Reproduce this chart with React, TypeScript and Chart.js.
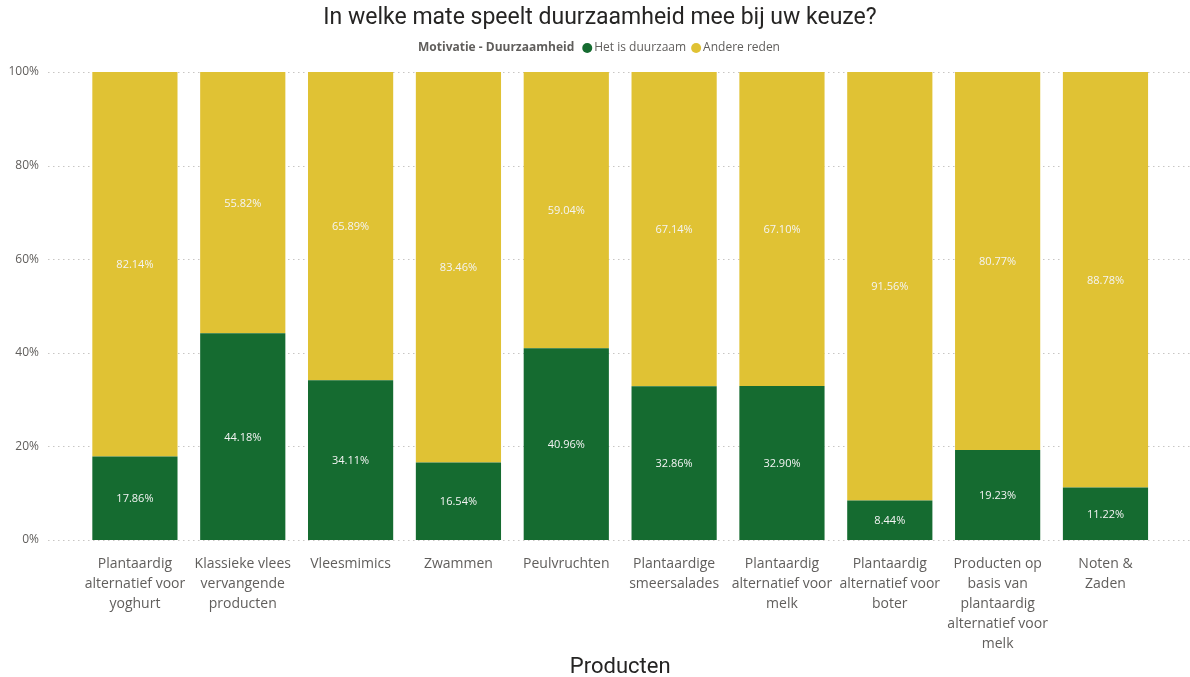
import React, { useEffect, useRef } from 'react';
import { Chart, registerables } from 'chart.js';

Chart.register(...registerables);

const chartTitle = 'In welke mate speelt duurzaamheid mee bij uw keuze?';
const legendTitle = 'Motivatie - Duurzaamheid';
const xAxisTitle = 'Producten';

const categories: string[][] = [
  ['Plantaardig', 'alternatief voor', 'yoghurt'],
  ['Klassieke vlees', 'vervangende', 'producten'],
  ['Vleesmimics'],
  ['Zwammen'],
  ['Peulvruchten'],
  ['Plantaardige', 'smeersalades'],
  ['Plantaardig', 'alternatief voor', 'melk'],
  ['Plantaardig', 'alternatief voor', 'boter'],
  ['Producten op', 'basis van', 'plantaardig', 'alternatief voor', 'melk'],
  ['Noten &', 'Zaden'],
];

const seriesNames = ['Het is duurzaam', 'Andere reden'];
const duurzaam = [17.86, 44.18, 34.11, 16.54, 40.96, 32.86, 32.9, 8.44, 19.23, 11.22];
const andereReden = [82.14, 55.82, 65.89, 83.46, 59.04, 67.14, 67.1, 91.56, 80.77, 88.78];
const yTickValues = [0, 20, 40, 60, 80, 100];

const GREEN = '#156B30';
const YELLOW = '#E0C234';
const seriesColors = [GREEN, YELLOW];
const FONT = '"Open Sans", "Noto Sans", sans-serif';
const TITLE_FONT = 'Roboto, "Noto Sans", sans-serif';

const gridPlugin = {
  id: 'customGrid',
  beforeDatasetsDraw(chart: any) {
    const { ctx } = chart;
    const y = chart.scales.y;
    ctx.save();
    ctx.strokeStyle = '#C8C6C4';
    ctx.lineWidth = 1;
    ctx.setLineDash([1.5, 3.5]);
    yTickValues.forEach((v) => {
      const py = Math.round(y.getPixelForValue(v)) + 0.5;
      ctx.beginPath();
      ctx.moveTo(48, py);
      ctx.lineTo(chart.width, py);
      ctx.stroke();
    });
    ctx.restore();
  },
};

const dataLabelPlugin = {
  id: 'dataLabels',
  afterDatasetsDraw(chart: any) {
    const { ctx } = chart;
    ctx.save();
    ctx.font = `11px ${FONT}`;
    ctx.fillStyle = '#F4F4F4';
    ctx.textAlign = 'center';
    ctx.textBaseline = 'middle';
    chart.data.datasets.forEach((ds: any, i: number) => {
      const meta = chart.getDatasetMeta(i);
      meta.data.forEach((el: any, j: number) => {
        const { x, y, base } = el.getProps(['x', 'y', 'base'], true);
        ctx.fillText(Number(ds.data[j]).toFixed(2) + '%', x, (y + base) / 2 + 1);
      });
    });
    ctx.restore();
  },
};

const headerPlugin = {
  id: 'header',
  afterDraw(chart: any) {
    const { ctx } = chart;
    ctx.save();
    // title
    ctx.font = `23px ${TITLE_FONT}`;
    ctx.fillStyle = '#252423';
    ctx.textAlign = 'center';
    ctx.textBaseline = 'middle';
    ctx.fillText(chartTitle, 600, 18);

    // legend
    const ly = 48;
    ctx.textBaseline = 'middle';
    ctx.textAlign = 'left';
    ctx.font = `bold 12px ${FONT}`;
    const tW = ctx.measureText(legendTitle).width;
    ctx.font = `12px ${FONT}`;
    const itemWs = seriesNames.map((n) => ctx.measureText(n).width);
    const r = 5;
    const gapTitle = 8;
    const gapItem = 5;
    let total = tW + gapTitle;
    itemWs.forEach((w, i) => {
      total += r * 2 + 2 + w + (i < itemWs.length - 1 ? gapItem : 0);
    });
    let x = 599 - total / 2;
    ctx.font = `bold 12px ${FONT}`;
    ctx.fillStyle = '#605E5C';
    ctx.fillText(legendTitle, x, ly);
    x += tW + gapTitle;
    ctx.font = `12px ${FONT}`;
    seriesNames.forEach((n, i) => {
      ctx.beginPath();
      ctx.fillStyle = seriesColors[i];
      ctx.arc(x + r, ly, r, 0, Math.PI * 2);
      ctx.fill();
      x += r * 2 + 2;
      ctx.fillStyle = '#605E5C';
      ctx.fillText(n, x, ly);
      x += itemWs[i] + gapItem;
    });
    ctx.restore();
  },
};

export default function App() {
  const canvasRef = useRef<HTMLCanvasElement | null>(null);

  useEffect(() => {
    if (!canvasRef.current) return;
    const chart = new Chart(canvasRef.current, {
      type: 'bar',
      data: {
        labels: categories,
        datasets: [
          {
            label: seriesNames[0],
            data: duurzaam,
            backgroundColor: GREEN,
            barPercentage: 0.79,
            categoryPercentage: 1,
          },
          {
            label: seriesNames[1],
            data: andereReden,
            backgroundColor: YELLOW,
            barPercentage: 0.79,
            categoryPercentage: 1,
          },
        ],
      },
      options: {
        animation: false,
        responsive: true,
        maintainAspectRatio: false,
        layout: { padding: { top: 72, right: 30.6, left: 0, bottom: 0 } },
        plugins: {
          legend: { display: false },
          title: { display: false },
          tooltip: { enabled: false },
        },
        scales: {
          x: {
            stacked: true,
            grid: { display: false, drawTicks: false },
            border: { display: false },
            ticks: {
              color: '#605E5C',
              font: { family: FONT, size: 14, lineHeight: 20 / 14 },
              padding: 14,
              maxRotation: 0,
              autoSkip: false,
            },
            title: {
              display: true,
              text: xAxisTitle,
              color: '#252423',
              font: { family: TITLE_FONT, size: 22, lineHeight: 0.85 },
              padding: { top: 0, bottom: 0 },
            },
            afterFit: (s: any) => {
              s.height = 137;
            },
          },
          y: {
            stacked: true,
            min: 0,
            max: 100,
            grid: { display: false, drawTicks: false },
            border: { display: false },
            ticks: {
              stepSize: 20,
              color: '#605E5C',
              font: { family: FONT, size: 12 },
              padding: 42,
              callback: (v: any) => v + '%',
            },
            afterFit: (s: any) => {
              s.width = 81;
            },
          },
        },
      },
      plugins: [gridPlugin, dataLabelPlugin, headerPlugin],
    });
    return () => chart.destroy();
  }, []);

  return (
    <div style={{ position: 'fixed', left: 0, top: 0, width: 1190, height: 677, background: '#fff' }}>
      <canvas ref={canvasRef} />
    </div>
  );
}
